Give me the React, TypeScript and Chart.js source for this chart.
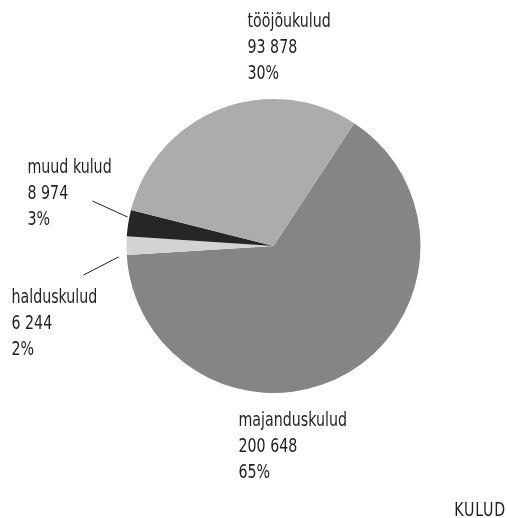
import React, { useEffect, useRef } from "react";
import { Chart, registerables } from "chart.js";

Chart.register(...registerables);

const categories = ["majanduskulud", "halduskulud", "muud kulud", "tööjõukulud"];
const values = [200648, 6244, 8974, 93878];
const colors = ["#858585", "#d3d3d3", "#262626", "#acacac"];
const chartTitle = "KULUD";

const FONT = '"DejaVu Sans Condensed", "Liberation Sans Narrow", sans-serif';
const SQUEEZE = 0.79;

// label layout: offsets relative to pie centre (x left edge, y first baseline)
const labelLayout: Record<string, { dx: number; dy: number; line?: [number, number, number, number] }> = {
  "tööjõukulud": { dx: -26, dy: -219 },
  "muud kulud": { dx: -246, dy: -73, line: [-181, -45, -146, -29] },
  "halduskulud": { dx: -262, dy: 57, line: [-190, 29, -155, 11] },
  "majanduskulud": { dx: -35, dy: 180 },
};

const fmt = (v: number) => String(v).replace(/\B(?=(\d{3})+(?!\d))/g, " ");

function squeezedText(ctx: CanvasRenderingContext2D, t: string, x: number, y: number, align: "left" | "right") {
  ctx.save();
  ctx.translate(x, y);
  ctx.scale(SQUEEZE, 1);
  ctx.textAlign = align;
  ctx.fillText(t, 0, 0);
  ctx.restore();
}

const labelPlugin = {
  id: "pieLabels",
  afterDraw(chart: any) {
    const ctx = chart.ctx;
    const meta = chart.getDatasetMeta(0);
    const arc0 = meta.data[0];
    const cx = arc0.x;
    const cy = arc0.y;
    const total = values.reduce((a, b) => a + b, 0);
    ctx.save();
    ctx.fillStyle = "#231f20";
    ctx.strokeStyle = "#231f20";
    ctx.lineWidth = 1;
    ctx.font = `20px ${FONT}`;
    ctx.textBaseline = "alphabetic";
    categories.forEach((c, i) => {
      const lay = labelLayout[c];
      if (!lay) return;
      const x = cx + lay.dx;
      const y = cy + lay.dy;
      const lines = [c, fmt(values[i]), `${Math.round((values[i] / total) * 100)}%`];
      lines.forEach((t, k) => squeezedText(ctx, t, x, y + k * 26, "left"));
      if (lay.line) {
        const [x1, y1, x2, y2] = lay.line;
        ctx.beginPath();
        ctx.moveTo(cx + x1, cy + y1);
        ctx.lineTo(cx + x2, cy + y2);
        ctx.stroke();
      }
    });
    ctx.font = `20px ${FONT}`;
    ctx.letterSpacing = "1px";
    squeezedText(ctx, chartTitle, chart.width - 1, chart.height - 2, "right");
    ctx.restore();
  },
};

export default function App() {
  const ref = useRef<HTMLCanvasElement | null>(null);
  useEffect(() => {
    if (!ref.current) return;
    const chart = new Chart(ref.current, {
      type: "pie",
      data: {
        labels: categories,
        datasets: [
          {
            data: values,
            backgroundColor: colors,
            borderWidth: 0,
          },
        ],
      },
      options: {
        animation: false,
        responsive: false,
        rotation: 33.3,
        layout: { padding: { left: 126.5, right: 86.5, top: 98.5, bottom: 124.5 } },
        plugins: {
          legend: { display: false },
          tooltip: { enabled: false },
          title: { display: false },
        },
      },
      plugins: [labelPlugin],
    });
    return () => chart.destroy();
  }, []);
  return (
    <div style={{ position: "fixed", left: 0, top: 0, width: 507, height: 518, background: "#fff" }}>
      <canvas ref={ref} width={507} height={518} style={{ width: 507, height: 518, display: "block" }} />
    </div>
  );
}
